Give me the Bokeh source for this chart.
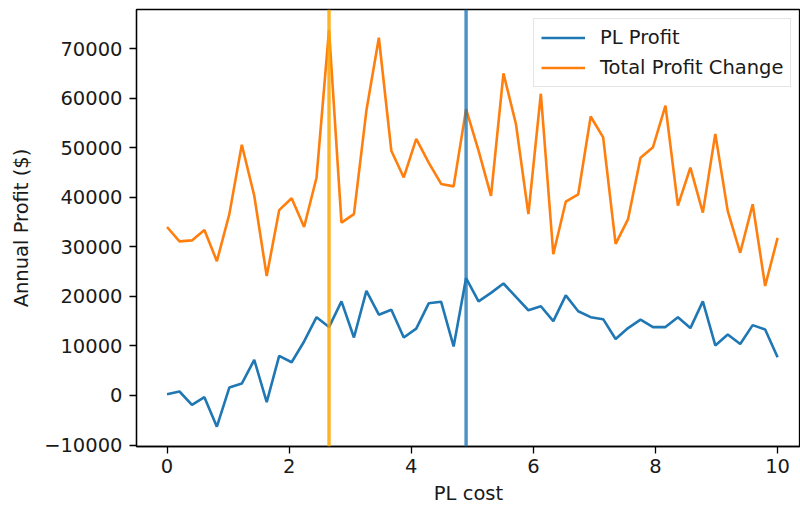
import numpy as np
from bokeh.plotting import figure
from bokeh.models import (Range1d, FixedTicker, CustomJSTickFormatter, Span,
                          Legend, LegendItem, ColumnDataSource)
from bokeh.embed import file_html
from bokeh.resources import INLINE

# ---- data ----
pl_cost = np.linspace(0, 10, 50)

pl_profit = [260, 800, -1900, -340, -6300, 1600, 2400, 7200, -1350, 8000,
             6700, 10900, 15800, 13800, 19000, 11700, 21100, 16300, 17300, 11700,
             13500, 18600, 18900, 9900, 23700, 19000, 20700, 22600, 19900, 17200,
             18000, 15000, 20200, 17000, 15800, 15400, 11400, 13600, 15300, 13800,
             13800, 15800, 13600, 19000, 10100, 12300, 10400, 14200, 13300, 7700]

total_profit_change = [34000, 31100, 31300, 33400, 27100, 36600, 50600, 40300, 24100, 37400,
                       39800, 34000, 44000, 73800, 34900, 36600, 57500, 72200, 49400, 44000,
                       51800, 47000, 42700, 42200, 57800, 49400, 40300, 65000, 54800, 36600,
                       60900, 28500, 39100, 40600, 56300, 52100, 30600, 35600, 48000, 50100,
                       58500, 38300, 46000, 36900, 52800, 37200, 28800, 38600, 22100, 31800]

x_ticks = [0, 2, 4, 6, 8, 10]
y_ticks = [-10000, 0, 10000, 20000, 30000, 40000, 50000, 60000, 70000]

best_total_x = float(pl_cost[int(np.argmax(total_profit_change))])
best_pl_x = float(pl_cost[int(np.argmax(pl_profit))])

FONT = "DejaVu Sans"
FS = "19.5px"

p = figure(width=800, height=507, output_backend="svg", toolbar_location=None,
           x_range=Range1d(-0.5, 10.375), y_range=Range1d(-10300, 77900),
           min_border_left=136, min_border_right=0, min_border_top=9,
           min_border_bottom=61)

p.xgrid.visible = False
p.ygrid.visible = False
p.outline_line_color = "black"
p.outline_line_width = 1.3
p.background_fill_color = "white"
p.border_fill_color = "white"

src = ColumnDataSource(dict(x=pl_cost, pl=pl_profit, tot=total_profit_change))
r1 = p.line("x", "pl", source=src, line_color="#1f77b4", line_width=2.6)
r2 = p.line("x", "tot", source=src, line_color="#ff7f0e", line_width=2.6)

p.add_layout(Span(location=best_total_x, dimension="height", line_color="orange",
                  line_width=3.4, line_alpha=0.85))
p.add_layout(Span(location=best_pl_x, dimension="height", line_color="#1f77b4",
                  line_width=3.4, line_alpha=0.8))

for ax in (p.xaxis[0], p.yaxis[0]):
    ax.axis_line_color = "black"
    ax.axis_line_width = 1.3
    ax.major_tick_line_color = "black"
    ax.major_tick_line_width = 1.3
    ax.major_tick_out = 7
    ax.major_tick_in = 0
    ax.minor_tick_line_color = None
    ax.major_label_text_font = FONT
    ax.major_label_text_font_size = FS
    ax.major_label_text_color = "#1a1a1a"
    ax.axis_label_text_font = FONT
    ax.axis_label_text_font_size = FS
    ax.axis_label_text_font_style = "normal"
    ax.axis_label_text_color = "#1a1a1a"

p.xaxis.ticker = FixedTicker(ticks=x_ticks)
p.yaxis.ticker = FixedTicker(ticks=y_ticks)
p.xaxis.axis_label = "PL cost"
p.yaxis.axis_label = "Annual Profit ($)"
p.xaxis.major_label_standoff = 5
p.yaxis.major_label_standoff = 7
p.xaxis.axis_label_standoff = 6
p.yaxis.axis_label_standoff = 8
p.yaxis.formatter = CustomJSTickFormatter(
    code="return tick < 0 ? '\u2212' + Math.abs(tick).toString() : tick.toString();")

legend = Legend(items=[LegendItem(label="PL Profit", renderers=[r1]),
                       LegendItem(label="Total Profit Change", renderers=[r2])],
                location=(397, 359))
legend.label_text_font = FONT
legend.label_text_font_size = FS
legend.label_text_color = "#1a1a1a"
legend.glyph_width = 44
legend.glyph_height = 23
legend.label_height = 23
legend.label_standoff = 15
legend.spacing = 7
legend.padding = 7
legend.margin = 0
legend.border_line_color = "#cccccc"
legend.border_line_width = 1
legend.background_fill_alpha = 0.8
p.add_layout(legend, "center")

open("out.html", "w").write(file_html(p, INLINE))
